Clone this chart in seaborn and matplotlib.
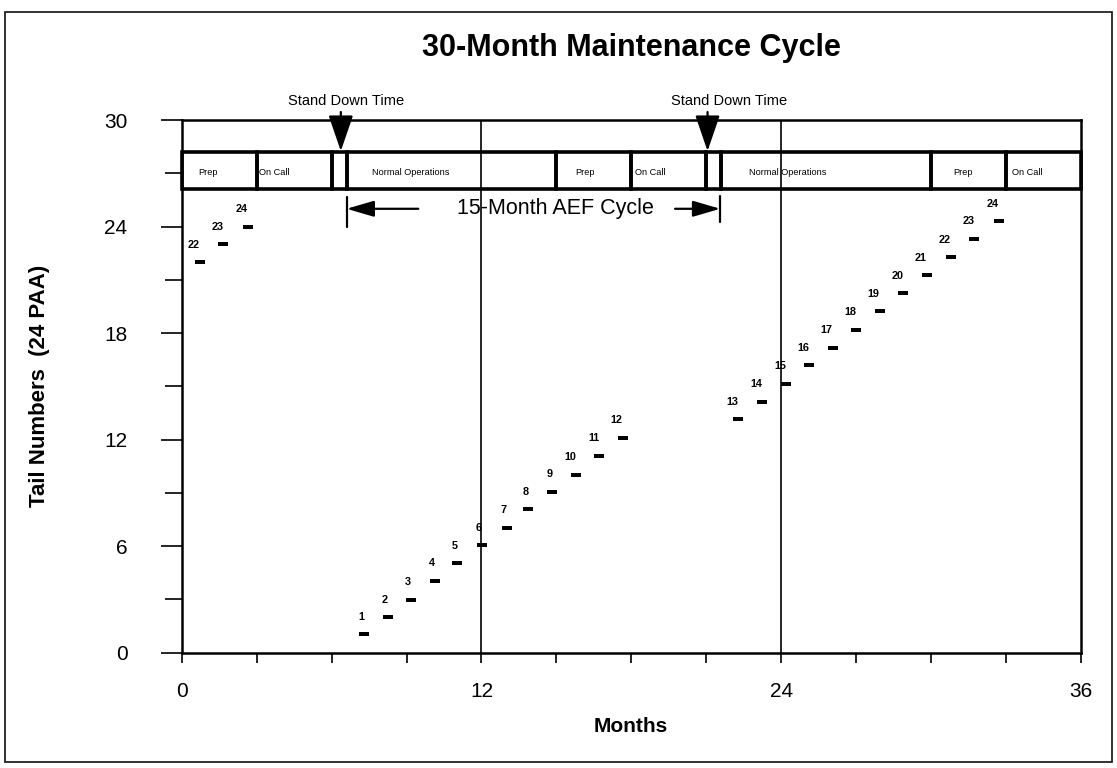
import matplotlib
matplotlib.use("Agg")
import matplotlib.pyplot as plt
from matplotlib import font_manager
from matplotlib.patches import Rectangle
from matplotlib.ticker import MultipleLocator
import seaborn as sns
import pandas as pd

# ---------------- data ----------------
tail_labels = [22, 23, 24, 1, 2, 3, 4, 5, 6, 7, 8, 9, 10, 11, 12,
               13, 14, 15, 16, 17, 18, 19, 20, 21, 22, 23, 24]
months = [0.73, 1.66, 2.66, 7.30, 8.26, 9.18, 10.14, 11.03, 12.03, 13.02, 13.88,
          14.84, 15.78, 16.72, 17.65, 22.27, 23.23, 24.19, 25.12, 26.06, 27.00,
          27.94, 28.89, 29.83, 30.78, 31.73, 32.70]
tail_pos = [22.0, 23.0, 24.0, 1.05, 2.0, 2.97, 4.04, 5.05, 6.05, 7.04, 8.07,
            9.07, 10.02, 11.08, 12.1, 13.16, 14.13, 15.15, 16.2, 17.17, 18.2,
            19.24, 20.25, 21.25, 22.26, 23.3, 24.3]

phase_names = ["Prep", "On Call", "", "Normal Operations", "Prep", "On Call", "",
               "Normal Operations", "Prep", "On Call"]
phase_start = [0, 3, 6, 6.6, 15, 18, 21, 21.6, 30, 33]
phase_end = [3, 6, 6.6, 15, 18, 21, 21.6, 30, 33, 36]
phase_text_x = [0.65, 3.1, None, 7.6, 15.75, 18.15, None, 22.7, 30.9, 33.25]

stand_down_x = [6.37, 21.05]
stand_down_text_x = [6.58, 21.9]
aef_start, aef_end = 6.6, 21.56

x_ticks = [0, 12, 24, 36]
y_ticks = [0, 6, 12, 18, 24, 30]

df = pd.DataFrame({"Months": months, "Tail": tail_pos, "Label": tail_labels})

# ---------------- style ----------------
sns.set_theme(style="white")
available = {f.name for f in font_manager.fontManager.ttflist}
main_font = "Liberation Sans" if "Liberation Sans" in available else "DejaVu Sans"
narrow_font = "Liberation Sans Narrow" if "Liberation Sans Narrow" in available else main_font
plt.rcParams["font.family"] = [main_font]
plt.rcParams["text.color"] = "black"
plt.rcParams["axes.labelcolor"] = "black"
plt.rcParams["xtick.color"] = "black"
plt.rcParams["ytick.color"] = "black"

fig = plt.figure(figsize=(11.17, 7.68), dpi=100)
ax = fig.add_axes([181.7 / 1117, 1 - 652.7 / 768, (1081 - 181.7) / 1117, (652.7 - 120) / 768])

# outer frame
fig.patches.append(Rectangle((5 / 1117, 1 - 762 / 768), 1107 / 1117, 750 / 768,
                             transform=fig.transFigure, fill=False, lw=1.3,
                             edgecolor="#222222"))

# markers (short horizontal dashes)
dash = [(-1, -0.45), (1, -0.45), (1, 0.45), (-1, 0.45), (-1, -0.45)]
sns.scatterplot(data=df, x="Months", y="Tail", marker=dash, s=55, color="black",
                edgecolor="black", linewidth=0, ax=ax, zorder=5, legend=False)

for m, t, lab in zip(months, tail_pos, tail_labels):
    ax.annotate(str(lab), (m, t), xytext=(0, 12.6), textcoords="offset points",
                ha="right", va="center", fontsize=7.8, fontweight="bold",
                family=narrow_font)

# vertical reference lines
for xv in [12, 24]:
    ax.axvline(xv, color="black", lw=1.2, zorder=1)

# phase band
for name, s, e, tx in zip(phase_names, phase_start, phase_end, phase_text_x):
    ax.add_patch(Rectangle((s, 26.1), e - s, 2.1, fill=False, lw=2.6,
                           edgecolor="black", zorder=3, clip_on=False))
    if name:
        ax.text(tx, 27.05, name, ha="left", va="center", fontsize=6.6,
                family=narrow_font)

# stand down arrows
for xa, xt in zip(stand_down_x, stand_down_text_x):
    ax.annotate("", xy=(xa, 28.25), xytext=(xa, 30.45),
                arrowprops=dict(arrowstyle="-|>,head_length=1.6,head_width=0.55",
                                color="black", lw=1.6, shrinkA=0, shrinkB=0,
                                mutation_scale=14),
                annotation_clip=False)
    ax.text(xt, 31.05, "Stand Down Time", ha="center", va="center",
            fontsize=10.5, clip_on=False)

# 15-month AEF cycle bracket
ax.text(14.95, 25.0, "15-Month AEF Cycle", ha="center", va="center", fontsize=15.5)
ax.annotate("", xy=(aef_start, 25.0), xytext=(9.47, 25.0),
            arrowprops=dict(arrowstyle="-|>,head_length=1.2,head_width=0.35",
                            color="black", lw=1.6, shrinkA=0, shrinkB=0,
                            mutation_scale=14))
ax.annotate("", xy=(aef_end, 25.0), xytext=(19.75, 25.0),
            arrowprops=dict(arrowstyle="-|>,head_length=1.2,head_width=0.35",
                            color="black", lw=1.6, shrinkA=0, shrinkB=0,
                            mutation_scale=14))
ax.plot([aef_start, aef_start], [23.96, 25.65], color="black", lw=1.6)
ax.plot([aef_end, aef_end], [24.25, 25.7], color="black", lw=1.6)

# axes
ax.set_xlim(0, 36)
ax.set_ylim(0, 30)
ax.set_xticks(x_ticks)
ax.set_yticks(y_ticks)
ax.xaxis.set_minor_locator(MultipleLocator(3))
ax.yaxis.set_minor_locator(MultipleLocator(3))
ax.tick_params(axis="both", which="both", direction="out", color="black",
               width=1.2, bottom=True, left=True)
ax.tick_params(axis="y", which="major", length=15, pad=24, labelsize=15,
               labelcolor="black")
ax.tick_params(axis="y", which="minor", length=12)
ax.tick_params(axis="x", which="major", length=7, pad=14, labelsize=15,
               labelcolor="black")
ax.tick_params(axis="x", which="minor", length=7)
for sp in ax.spines.values():
    sp.set_color("black")
    sp.set_linewidth(1.8)

ax.set_xlabel("")
ax.set_ylabel("")
fig.text(631 / 1117, 1 - 48 / 768, "30-Month Maintenance Cycle", ha="center",
         va="center", fontsize=22, fontweight="bold")
fig.text(631 / 1117, 1 - 726 / 768, "Months", ha="center", va="center",
         fontsize=15, fontweight="bold")
fig.text(40 / 1117, 1 - 386 / 768, "Tail Numbers  (24 PAA)", ha="center",
         va="center", rotation=90, fontsize=16, fontweight="bold")

fig.savefig("out.png", dpi=100)
